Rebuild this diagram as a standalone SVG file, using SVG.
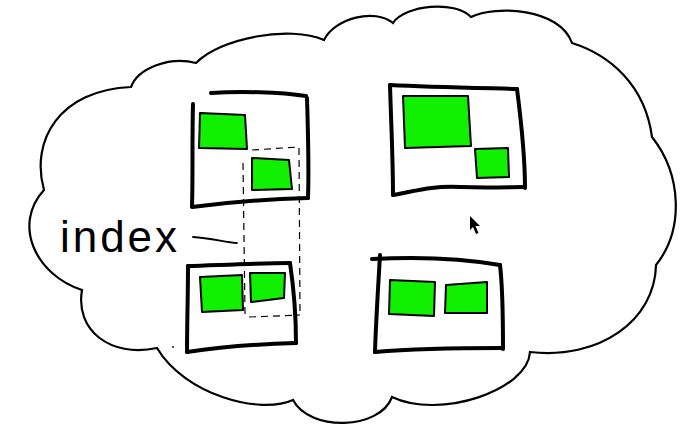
<svg xmlns="http://www.w3.org/2000/svg" width="687" height="435" viewBox="0 0 687 435">
<style>
.cloud{fill:#fff;stroke:#000;stroke-width:2.2;stroke-linejoin:miter}
.box{fill:none;stroke:#000;stroke-width:4;stroke-linecap:round;stroke-linejoin:round}
.blk{fill:#10f000;stroke:#000;stroke-width:2;stroke-linejoin:round}
.dash{fill:none;stroke:#000;stroke-width:1.2;stroke-dasharray:7 5}
.conn{fill:none;stroke:#000;stroke-width:1.8;stroke-linecap:round}
.lbl{font-family:"Liberation Sans",Arial,sans-serif;font-size:44px;fill:#000}
</style>
<rect width="687" height="435" fill="#fff"/>
<g id="cloud">
<path class="cloud" d="M131,87 C138,68 170,56 196,63 C220,38 290,25 324,40 C335,18 375,8 393,23 C405,5 455,0 471,17 C495,5 560,8 572,43 C610,55 645,85 652,137 C682,175 684,230 656,265 C655,320 600,360 530,352 C528,390 440,420 392,397 C380,430 310,432 293,400 C260,415 185,395 157,348 C110,358 75,330 82,290 C36,275 12,225 44,190 C30,140 60,90 131,87 Z"/>
</g>
<g id="shard-top-left">
<path class="box" d="M211,93 C240,91 280,92 306,96"/>
<path class="box" d="M193,104 C192,140 193,175 192,206"/>
<path class="box" d="M307,98 C308,130 309,170 308,198"/>
<path class="box" d="M192,207 C230,202 270,199 308,198"/>
<path class="blk" d="M200,113 L245,115 L247,149 L199,148 Z"/>
<path class="blk" d="M252,158 L289,160 L292,189 L252,190 Z"/>
</g>
<g id="shard-top-right">
<path class="box" d="M390,85 C430,87 480,88 517,89"/>
<path class="box" d="M390,85 C391,120 393,160 393,195"/>
<path class="box" d="M517,89 C521,120 525,160 525,188"/>
<path class="box" d="M393,195 C420,190 430,186 460,187 C490,188 510,187 525,187"/>
<path class="blk" d="M403,96 L468,96 L471,146 L405,148 Z"/>
<path class="blk" d="M475,149 L508,148 L509,177 L477,178 Z"/>
</g>
<g id="shard-bottom-left">
<path class="box" d="M188,266 C220,265 260,263 290,263"/>
<path class="box" d="M188,266 C188,295 187,325 187,352"/>
<path class="box" d="M290,263 C294,290 296,320 296,343"/>
<path class="box" d="M187,352 C220,347 260,344 296,343"/>
<path class="blk" d="M200,277 L242,275 L243,310 L202,312 Z"/>
<path class="blk" d="M250,273 L285,273 L284,298 L251,302 Z"/>
</g>
<g id="shard-bottom-right">
<path class="box" d="M372,259 C410,257 460,258 500,265"/>
<path class="box" d="M380,255 C378,290 376,320 375,352"/>
<path class="box" d="M500,265 C503,290 503,320 503,349"/>
<path class="box" d="M375,352 C410,349 460,348 503,348"/>
<path class="blk" d="M390,280 L435,282 L434,316 L389,314 Z"/>
<path class="blk" d="M446,285 L487,282 L487,313 L445,313 Z"/>
</g>
<g id="index-region">
<path class="dash" d="M252,150 L299,147"/>
<path class="dash" d="M243,163 L245,314"/>
<path class="dash" d="M299,148 L300,313"/>
<path class="dash" d="M249,317 L300,315"/>
</g>
<g id="index-label">
<text class="lbl" x="60" y="252" textLength="117" lengthAdjust="spacing">index</text>
</g>
<g id="connectors">
<path class="conn" d="M193,237 C210,238 225,242 237,243"/>
</g>
<g id="cursor">
<path d="M470,216 L470,230 L473,227 L476,234 L478.5,233 L475.5,226 L480,226 Z" fill="#000"/>
</g>
<circle cx="173" cy="347" r="0.9" fill="#000"/>
</svg>
